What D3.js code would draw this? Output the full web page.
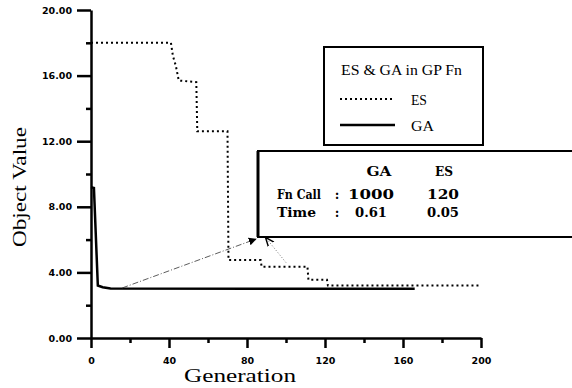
<!DOCTYPE html>
<html>
<head>
<meta charset="utf-8">
<script src="https://cdn.jsdelivr.net/npm/d3@7"></script>
<style>
  body { margin: 0; background: #fff; }
  svg { display: block; }
  .tick text { font-family: "DejaVu Sans", sans-serif; font-weight: bold; font-size: 9.5px; }
</style>
</head>
<body>
<div id="chart"></div>
<script>
// --- data ---
const esGen = [0, 41, 42, 43.5, 45, 54, 54.5, 70, 70.5, 87, 87.5, 111, 111.5, 121, 121.5, 199];
const esVal = [18, 18, 17.2, 16.6, 15.7, 15.6, 12.6, 12.6, 4.75, 4.75, 4.35, 4.35, 3.55, 3.55, 3.2, 3.2];
const gaGen = [0, 1.5, 3.5, 6, 10, 166];
const gaVal = [9.2, 9.15, 3.2, 3.1, 3.02, 3.0];

const yMajor = [0, 4, 8, 12, 16, 20];
const yMinor = [2, 6, 10, 14, 18];
const xMajor = [0, 40, 80, 120, 160, 200];
const xMinor = [20, 60, 100, 140, 180];

const legendTitle = "ES & GA in GP Fn";
const seriesNames = ["ES", "GA"];
const tableCols = ["GA", "ES"];
const tableRows = ["Fn Call", "Time"];
const fnCall = ["1000", "120"];
const runTime = ["0.61", "0.05"];

// --- plot sizes ---
const width = 572, height = 388;

const svg = d3.select("#chart").append("svg")
  .attr("width", width)
  .attr("height", height);

const x = d3.scaleLinear().domain([0, 200]).range([91, 481]);
const y = d3.scaleLinear().domain([0, 20]).range([338, 10]);

// --- axes ---
const yAxis = svg.append("g")
  .attr("transform", `translate(${x(0)},0)`)
  .call(d3.axisLeft(y).tickValues(yMajor).tickSize(14).tickSizeOuter(0)
    .tickPadding(5).tickFormat(d3.format(".2f")));
svg.append("g")
  .attr("transform", `translate(${x(0)},0)`)
  .call(d3.axisLeft(y).tickValues(yMinor).tickSize(5).tickSizeOuter(0).tickFormat(""))
  .select(".domain").remove();

const xAxis = svg.append("g")
  .attr("transform", `translate(0,${y(0)})`)
  .call(d3.axisBottom(x).tickValues(xMajor).tickSize(10).tickSizeOuter(0).tickPadding(9));
svg.append("g")
  .attr("transform", `translate(0,${y(0)})`)
  .call(d3.axisBottom(x).tickValues(xMinor).tickSize(5).tickSizeOuter(0).tickFormat(""))
  .select(".domain").remove();

svg.selectAll(".domain").attr("stroke", "#000").attr("stroke-width", 2.5);
svg.selectAll(".tick line").attr("stroke", "#000").attr("stroke-width", 2.5);
svg.selectAll(".tick text").attr("fill", "#000");

// axis titles
svg.append("text")
  .attr("x", 240).attr("y", 382)
  .attr("text-anchor", "middle")
  .attr("font-family", "Liberation Serif, serif")
  .attr("font-size", 19)
  .attr("textLength", 112).attr("lengthAdjust", "spacingAndGlyphs")
  .text("Generation");

svg.append("text")
  .attr("transform", "translate(26,187) rotate(-90)")
  .attr("text-anchor", "middle")
  .attr("font-family", "Liberation Serif, serif")
  .attr("font-size", 18)
  .attr("textLength", 120).attr("lengthAdjust", "spacingAndGlyphs")
  .text("Object Value");

// --- series ---
const line = d3.line().x(d => x(d[0])).y(d => y(d[1]));

svg.append("path")
  .datum(d3.zip(esGen, esVal))
  .attr("fill", "none")
  .attr("stroke", "#000")
  .attr("stroke-width", 2)
  .attr("stroke-dasharray", "2,3")
  .attr("d", line);

svg.append("path")
  .datum(d3.zip(gaGen, gaVal))
  .attr("fill", "none")
  .attr("stroke", "#000")
  .attr("stroke-width", 2.5)
  .attr("d", line);

// --- legend ---
const lg = { x: 324, y: 47, w: 159, h: 98 };
svg.append("rect")
  .attr("x", lg.x).attr("y", lg.y).attr("width", lg.w).attr("height", lg.h)
  .attr("fill", "#fff").attr("stroke", "#000").attr("stroke-width", 2);

svg.append("text")
  .attr("x", lg.x + 17).attr("y", lg.y + 28)
  .attr("font-family", "Liberation Serif, serif")
  .attr("font-size", 14.5)
  .attr("textLength", 121).attr("lengthAdjust", "spacingAndGlyphs")
  .text(legendTitle);

const legendRows = svg.append("g").selectAll("g")
  .data(seriesNames)
  .join("g")
  .attr("transform", (d, i) => `translate(${lg.x + 16},${lg.y + 52 + i * 26})`);

legendRows.append("line")
  .attr("x1", 0).attr("x2", (d, i) => i === 0 ? 52 : 55)
  .attr("stroke", "#000")
  .attr("stroke-width", (d, i) => i === 0 ? 2 : 2.5)
  .attr("stroke-dasharray", (d, i) => i === 0 ? "2,3" : null);

legendRows.append("text")
  .attr("x", 71).attr("y", 5.5)
  .attr("font-family", "Liberation Serif, serif")
  .attr("font-size", 14.5)
  .attr("textLength", (d, i) => i === 0 ? 16 : 23).attr("lengthAdjust", "spacingAndGlyphs")
  .text(d => d);

// --- table box ---
const tb = { x: 258, y: 151, w: 330, h: 86 };
svg.append("rect")
  .attr("x", tb.x).attr("y", tb.y).attr("width", tb.w).attr("height", tb.h)
  .attr("fill", "#fff").attr("stroke", "#000").attr("stroke-width", 2);
svg.append("line")
  .attr("x1", tb.x).attr("x2", tb.x).attr("y1", tb.y).attr("y2", tb.y + tb.h)
  .attr("stroke", "#000").attr("stroke-width", 3);

const tfont = sel => sel
  .attr("font-family", "DejaVu Serif, serif")
  .attr("font-weight", "bold")
  .attr("font-size", 12.5)
  .attr("lengthAdjust", "spacingAndGlyphs");

const headX = [379, 444];
const valX = [371, 443];
const rowY = [tb.y + 48, tb.y + 66];

svg.append("g").selectAll("text")
  .data(tableCols)
  .join("text")
  .call(tfont)
  .attr("x", (d, i) => headX[i]).attr("y", tb.y + 25)
  .attr("text-anchor", "middle")
  .attr("textLength", (d, i) => i === 0 ? 25 : 18)
  .text(d => d);

svg.append("g").selectAll("text")
  .data(tableRows)
  .join("text")
  .call(tfont)
  .attr("x", 277).attr("y", (d, i) => rowY[i])
  .attr("textLength", (d, i) => i === 0 ? 44 : 39)
  .text(d => d);

svg.append("g").selectAll("text")
  .data(tableRows)
  .join("text")
  .call(tfont)
  .attr("x", 337).attr("y", (d, i) => rowY[i])
  .attr("text-anchor", "middle")
  .text(":");

const cells = [fnCall, runTime];
cells.forEach((row, r) => {
  svg.append("g").selectAll("text")
    .data(row)
    .join("text")
    .call(tfont)
    .attr("x", (d, i) => valX[i]).attr("y", rowY[r])
    .attr("text-anchor", "middle")
    .attr("textLength", d => d.length === 4 && r === 0 ? 46 : 32)
    .text(d => d);
});

// --- annotation arrows ---
const defs = svg.append("defs");
defs.append("marker")
  .attr("id", "head-solid")
  .attr("viewBox", "0 0 10 10").attr("refX", 9).attr("refY", 5)
  .attr("markerWidth", 8).attr("markerHeight", 8).attr("markerUnits", "userSpaceOnUse")
  .attr("orient", "auto")
  .append("path").attr("d", "M0,0L10,5L0,10Z").attr("fill", "#000");
defs.append("marker")
  .attr("id", "head-open")
  .attr("viewBox", "0 0 10 10").attr("refX", 9).attr("refY", 5)
  .attr("markerWidth", 9).attr("markerHeight", 9).attr("markerUnits", "userSpaceOnUse")
  .attr("orient", "auto")
  .append("path").attr("d", "M0,1L10,5L0,9").attr("fill", "none")
  .attr("stroke", "#000").attr("stroke-width", 1.6);

svg.append("line")
  .attr("x1", x(16)).attr("y1", y(3.05))
  .attr("x2", tb.x - 2).attr("y2", tb.y + tb.h + 2)
  .attr("stroke", "#333").attr("stroke-width", 0.8)
  .attr("stroke-dasharray", "6,2,1,2")
  .attr("marker-end", "url(#head-solid)");

svg.append("line")
  .attr("x1", x(100)).attr("y1", y(4.6))
  .attr("x2", tb.x + 8).attr("y2", tb.y + tb.h + 1)
  .attr("stroke", "#555").attr("stroke-width", 0.8)
  .attr("stroke-dasharray", "1,2")
  .attr("marker-end", "url(#head-open)");
</script>
</body>
</html>
